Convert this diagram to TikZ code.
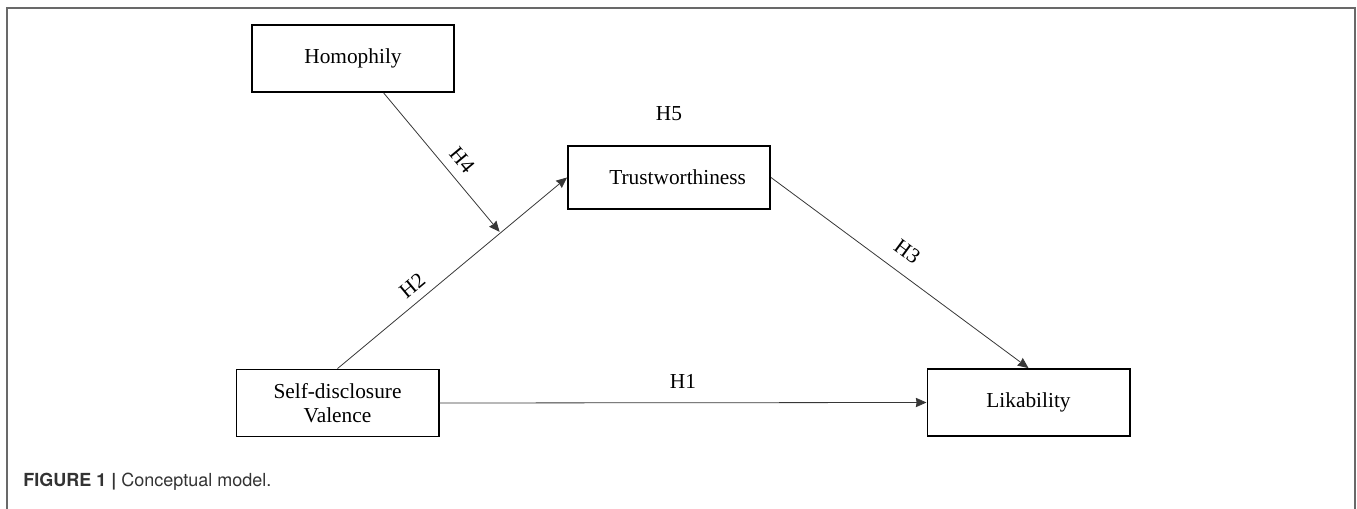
\documentclass[tikz,border=0pt]{standalone}
\usepackage{fontspec}
\setmainfont{Liberation Serif}
\setsansfont{TeX Gyre Heros}
\usetikzlibrary{arrows.meta,positioning,calc}
\definecolor{framegray}{RGB}{105,105,105}
\definecolor{captiongray}{RGB}{51,51,51}
\definecolor{linkgray}{RGB}{55,55,55}

\begin{document}
\begin{tikzpicture}[x=0.75pt,y=-0.75pt,
    box/.style={draw,line width=1.4pt,minimum width=151.6pt,minimum height=50.2pt,
      inner sep=0pt,align=center,font=\fontsize{16}{18}\selectfont},
    link/.style={->,>={Stealth[length=8pt,width=7pt,inset=0.6pt]},line width=0.6pt,draw=linkgray},
    hlabel/.style={font=\fontsize{16}{18}\selectfont}]
  \useasboundingbox (0,0) rectangle (1357,509);

  % 枠
  \draw[framegray,line width=1.4pt] (7,509) |- (1355,8) -- (1355,509);

  % 箱
  \node[box] (homo) at (353,58.5) {Homophily};
  \node[box,minimum height=47.2pt] (trust) at (669,177.5) {\hspace*{13pt}Trustworthiness};
  \node[box] (self) at (337.5,403) {Self-disclosure\\Valence};
  \node[box] (like) at (1028.5,402.5) {Likability};

  % 矢印
  \coordinate (hfoot) at ($(homo.south west)!0.65!(homo.south east)$);
  \coordinate (hmeet) at ($(self.north)!0.71!(trust.west)$);
  \draw[link] (self.east) -- node[hlabel,above=7pt] (h1) {H1} (like.west);
  \draw[link] (self.north) -- node[hlabel,sloped,above=3pt,pos=0.37] (h2) {H2} (trust.west);
  \draw[link] (trust.east) -- node[hlabel,sloped,above=7pt,pos=0.48] (h3) {H3} (like.north);
  \draw[link,shorten >=1pt] (hfoot) -- node[hlabel,sloped,above=4pt,pos=0.56] (h4) {H4} (hmeet);
  \node[hlabel,above=15pt of trust] (h5) {H5};

  % 見出し
  \node[anchor=west,inner sep=0pt,text=captiongray,font=\sffamily\fontsize{13.5}{16}\selectfont]
    (caption) at (23,482) {\textbf{FIGURE 1 |} Conceptual model.};
\end{tikzpicture}
\end{document}
